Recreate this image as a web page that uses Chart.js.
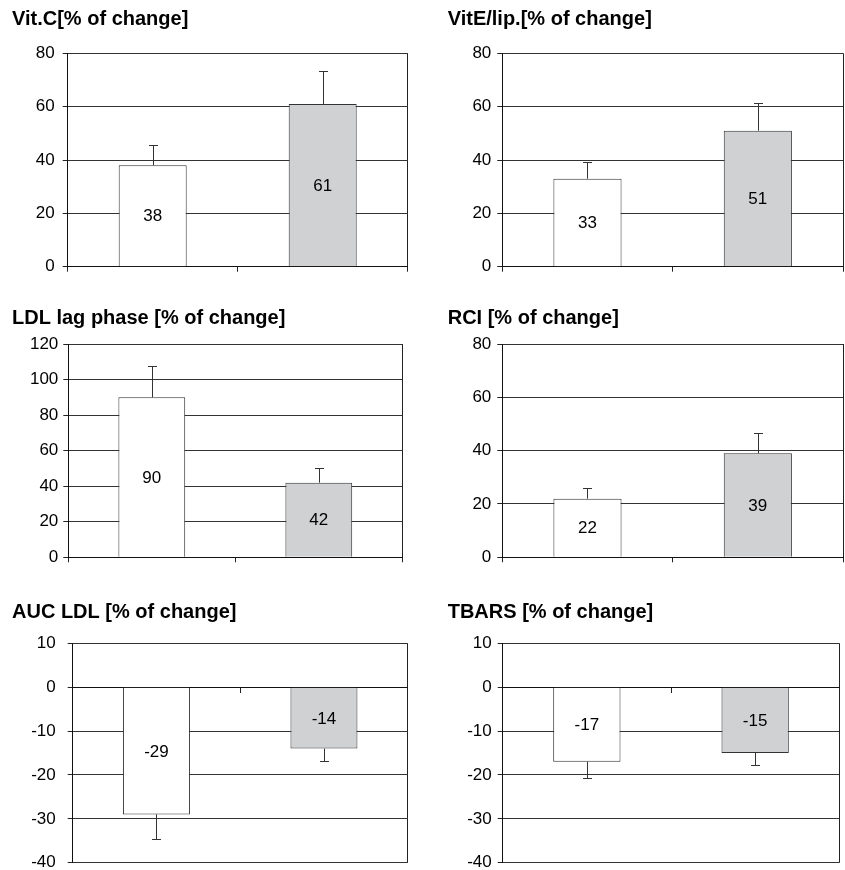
<!DOCTYPE html>
<html>
<head>
<meta charset="utf-8">
<script src="https://cdn.jsdelivr.net/npm/chart.js@4.4.1/dist/chart.umd.min.js"></script>
<style>
  html, body { margin: 0; padding: 0; background: #fff; width: 845px; height: 870px; overflow: hidden; }
  canvas { position: absolute; }
</style>
</head>
<body>
<script>
/* six small "% of change" bar panels, two groups each, one-sided SE bars */
const titles = [
  "Vit.C[% of change]", "VitE/lip.[% of change]",
  "LDL lag phase [% of change]", "RCI [% of change]",
  "AUC LDL [% of change]", "TBARS [% of change]",
];
const groups = ["1", "2"];

const vitC = [38, 61],   vitCSe = [7.6, 12.4];
const vitE = [33, 51],   vitESe = [6.4, 10.5];
const ldlLag = [90, 42], ldlLagSe = [17.6, 8.4];
const rci = [22, 39],    rciSe = [4.1, 7.5];
const aucLdl = [-29, -14], aucLdlSe = [5.7, 2.8];
const tbars = [-17, -15],  tbarsSe = [3.6, 2.8];

// y ranges: [min, max, step]
const posRange = [0, 80, 20];
const lagRange = [0, 120, 20];
const negRange = [-40, 10, 10];

const barFills = ["#ffffff", "#d0d1d3"];

const panels = [
  { title: titles[0], values: vitC, se: vitCSe, range: posRange },
  { title: titles[1], values: vitE, se: vitESe, range: posRange },
  { title: titles[2], values: ldlLag, se: ldlLagSe, range: lagRange },
  { title: titles[3], values: rci, se: rciSe, range: posRange },
  { title: titles[4], values: aucLdl, se: aucLdlSe, range: negRange },
  { title: titles[5], values: tbars, se: tbarsSe, range: negRange },
];

// canvas placement + padding so the plot areas land where the figure has them
// (bottom row canvases run past the window so the -40 label padding never clips the plot)
const boxes = [
  { x: 0,   y: 0,   w: 425, h: 290, padL: 12,   yW: 55.7, padR: 17.3, padB: 17.3, tT: 7,  tB: 22.3, lp: 8 },
  { x: 425, y: 0,   w: 420, h: 290, padL: 22.7, yW: 54.6, padR: 2,    padB: 17.3, tT: 7,  tB: 22.3, lp: 6 },
  { x: 0,   y: 290, w: 425, h: 290, padL: 12,   yW: 56.3, padR: 22.7, padB: 16.7, tT: 16, tB: 14,   lp: 5 },
  { x: 425, y: 290, w: 420, h: 290, padL: 22.7, yW: 54.6, padR: 2,    padB: 16.7, tT: 16, tB: 14,   lp: 6 },
  { x: 0,   y: 580, w: 425, h: 310, padL: 12,   yW: 60.7, padR: 17.3, padB: 27.3, tT: 20, tB: 19.3, lp: 12 },
  { x: 425, y: 580, w: 420, h: 310, padL: 22.7, yW: 55,   padR: 5.7,  padB: 27.3, tT: 20, tB: 19.3, lp: 6 },
];

Chart.defaults.font.family = "'Liberation Sans', Arial, Helvetica, sans-serif";
Chart.defaults.color = "#000";

// SE whisker (away from zero) + value label in the middle of each bar
const errorBars = {
  id: "errorBars",
  afterDatasetsDraw(chart) {
    const { ctx } = chart;
    const y = chart.scales.y;
    const ds = chart.data.datasets[0];
    const meta = chart.getDatasetMeta(0);
    ctx.save();
    ctx.strokeStyle = "#333";
    ctx.lineWidth = 1;
    meta.data.forEach((bar, i) => {
      const v = ds.data[i];
      const end = Math.round(y.getPixelForValue(v + Math.sign(v) * ds.se[i])) + 0.5;
      const x = Math.round(bar.x) + 0.5;
      ctx.beginPath();
      ctx.moveTo(x, bar.y);
      ctx.lineTo(x, end);
      ctx.moveTo(x - 4.5, end);
      ctx.lineTo(x + 4.5, end);
      ctx.stroke();
    });
    ctx.fillStyle = "#000";
    ctx.font = "17px 'Liberation Sans', Arial, sans-serif";
    ctx.textAlign = "center";
    ctx.textBaseline = "middle";
    meta.data.forEach((bar, i) => {
      ctx.fillText(String(ds.data[i]), bar.x, (bar.y + bar.base) / 2 + 1);
    });
    ctx.restore();
  },
};

panels.forEach((p, k) => {
  const b = boxes[k];
  const canvas = document.createElement("canvas");
  canvas.width = b.w; canvas.height = b.h;
  canvas.style.left = b.x + "px"; canvas.style.top = b.y + "px";
  canvas.style.width = b.w + "px"; canvas.style.height = b.h + "px";
  document.body.appendChild(canvas);

  const [min, max, step] = p.range;
  const negative = min < 0;

  new Chart(canvas, {
    type: "bar",
    data: {
      labels: groups,
      datasets: [{
        data: p.values, se: p.se,
        backgroundColor: barFills, borderColor: "#333", borderWidth: 1,
        barPercentage: 0.4, categoryPercentage: 1,
      }],
    },
    options: {
      responsive: false, animation: false, devicePixelRatio: 1,
      layout: { padding: { left: b.padL, right: b.padR, top: 0, bottom: b.padB } },
      plugins: {
        legend: { display: false }, tooltip: { enabled: false },
        title: {
          display: true, text: p.title, align: "start", color: "#000",
          font: { size: 20, weight: "bold" }, padding: { top: b.tT, bottom: b.tB },
        },
      },
      scales: {
        x: {
          position: negative ? { y: 0 } : "bottom",
          offset: true,
          ticks: { display: false },
          grid: {
            offset: true, drawTicks: true, tickLength: 5, tickColor: "#222", lineWidth: 1,
            color: ctx => ctx.index === 1 ? "rgba(0,0,0,0)" : "#222",
          },
          border: { display: true, color: "#111" },
          afterFit(s) { s.height = 6; },
        },
        y: {
          min, max,
          ticks: { stepSize: step, font: { size: 17 }, color: "#000", padding: b.lp },
          grid: { color: "#333", tickColor: "#222", tickLength: 5, lineWidth: 1 },
          border: { display: true, color: "#111" },
          afterFit(s) { s.width = b.yW; },
        },
      },
    },
    plugins: [errorBars],
  });
});
</script>
</body>
</html>
